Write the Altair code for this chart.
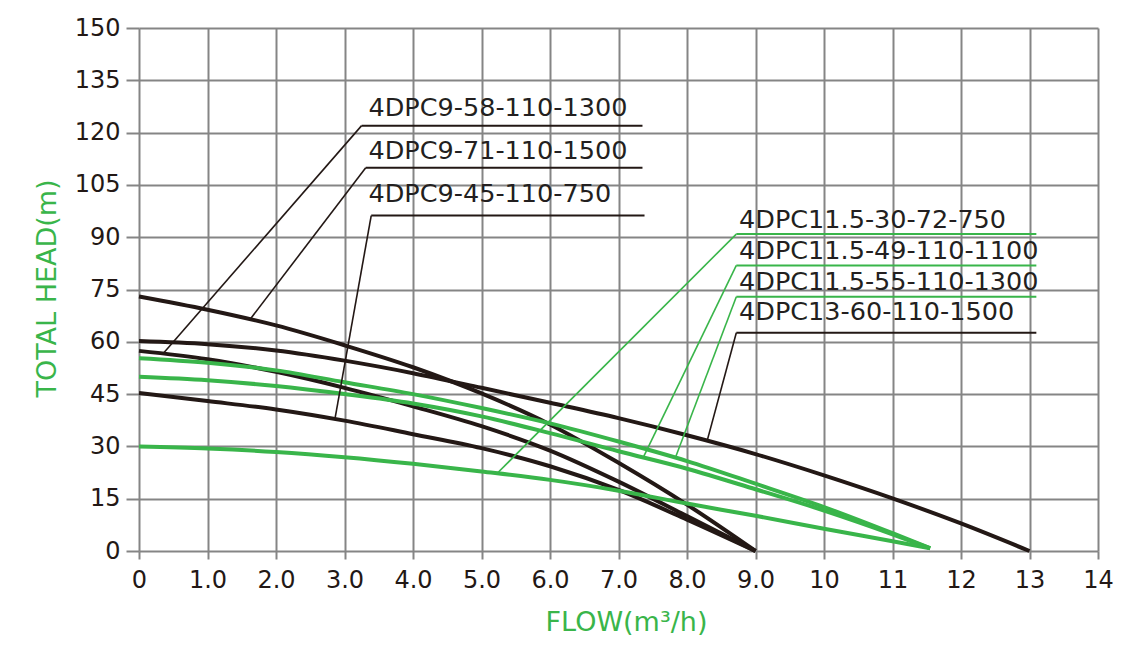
import altair as alt
import pandas as pd

BLACK = "#231815"
GREEN = "#39b54a"
GRID = "#858585"
FONT = "DejaVu Sans"

# ---------------- curve data (flow m3/h, head m) ----------------
flow_9 = [0, 1, 2, 3, 4, 5, 6, 7, 8, 9]
head_9_71 = [73.0, 69.2, 64.7, 59.0, 52.7, 45.2, 36.3, 25.3, 13.3, 0.0]
head_9_58 = [57.4, 55.0, 51.4, 46.8, 41.5, 35.8, 28.8, 19.9, 10.0, 0.0]
head_9_45 = [45.3, 43.0, 40.6, 37.4, 33.5, 29.5, 24.3, 17.5, 9.0, 0.0]

flow_13 = [0, 1, 2, 3, 4, 5, 6, 7, 8, 9, 10, 11, 12, 13]
head_13_60 = [60.2, 59.3, 57.5, 54.6, 51.0, 46.8, 42.5, 38.1, 33.2, 27.8, 21.7, 15.1, 7.9, 0.0]

flow_115 = [0, 1, 2, 3, 4, 5, 6, 7, 8, 9, 10, 11, 11.55]
head_115_55 = [55.3, 54.0, 51.8, 48.4, 45.0, 41.0, 36.6, 31.4, 25.8, 19.3, 12.6, 5.1, 0.8]
head_115_49 = [50.0, 49.0, 47.3, 45.0, 42.3, 38.6, 33.8, 28.6, 23.6, 17.7, 11.6, 4.8, 0.8]
head_115_30 = [30.0, 29.4, 28.4, 26.9, 25.0, 22.8, 20.4, 17.3, 13.6, 10.1, 6.4, 2.8, 0.8]

# ---------------- axis ticks ----------------
x_ticks = list(range(15))
x_tick_labels = ["0", "1.0", "2.0", "3.0", "4.0", "5.0", "6.0", "7.0", "8.0", "9.0",
                 "10", "11", "12", "13", "14"]
y_ticks = [0, 15, 30, 45, 60, 75, 90, 105, 120, 135, 150]

# ---------------- annotations (data units) ----------------
label_names = ["4DPC9-58-110-1300", "4DPC9-71-110-1500", "4DPC9-45-110-750",
               "4DPC11.5-30-72-750", "4DPC11.5-49-110-1100", "4DPC11.5-55-110-1300",
               "4DPC13-60-110-1500"]
label_group = ["black", "black", "black", "green", "green", "green", "black"]
label_text_x = [3.35, 3.35, 3.35, 8.76, 8.76, 8.76, 8.76]
label_text_y = [124.7, 112.4, 100.2, 92.5, 83.7, 74.85, 66.2]
underline_x1 = [3.25, 3.31, 3.39, 8.72, 8.72, 8.72, 8.72]
underline_x2 = [7.35, 7.35, 7.38, 13.1, 13.1, 13.1, 13.1]
underline_y = [122.0, 109.9, 96.2, 90.9, 81.9, 72.9, 62.6]
leader_x = [0.35, 1.62, 2.86, 5.23, 7.36, 7.83, 8.29]
leader_y = [56.6, 66.4, 37.85, 22.3, 26.8, 26.75, 31.3]

# ---------------- build tables ----------------
series = [
    ("4DPC9-71-110-1500", "black", flow_9, head_9_71),
    ("4DPC9-58-110-1300", "black", flow_9, head_9_58),
    ("4DPC9-45-110-750", "black", flow_9, head_9_45),
    ("4DPC13-60-110-1500", "black", flow_13, head_13_60),
    ("4DPC11.5-55-110-1300", "green", flow_115, head_115_55),
    ("4DPC11.5-49-110-1100", "green", flow_115, head_115_49),
    ("4DPC11.5-30-72-750", "green", flow_115, head_115_30),
]
rows = []
for name, grp, xs, ys in series:
    for i, (xv, yv) in enumerate(zip(xs, ys)):
        rows.append({"model": name, "group": grp, "flow": xv, "head": yv, "i": i})
curves = pd.DataFrame(rows)

ann = pd.DataFrame({
    "model": label_names, "group": label_group,
    "tx": label_text_x, "ty": label_text_y,
    "ux1": underline_x1, "ux2": underline_x2, "uy": underline_y,
    "lx": leader_x, "ly": leader_y,
})

color_scale = alt.Scale(domain=["black", "green"], range=[BLACK, GREEN])
xscale = alt.Scale(domain=[0, 14], nice=False, zero=False)
yscale = alt.Scale(domain=[0, 150], nice=False, zero=False)

label_expr = "[" + ",".join("'%s'" % s for s in x_tick_labels) + "][datum.value]"

x_axis = alt.Axis(
    values=x_ticks, labelExpr=label_expr,
    grid=True, gridColor=GRID, gridWidth=2, domain=False,
    ticks=True, tickColor=GRID, tickWidth=2, tickSize=8,
    labelFont=FONT, labelFontSize=24, labelColor=BLACK, labelPadding=9,
    labelFlush=False, labelOverlap=False,
    titleFont=FONT, titleFontSize=27, titleFontWeight="normal", titleColor=GREEN,
    titleX=487, titleY=79, titleBaseline="alphabetic", titleAlign="center",
)
y_axis = alt.Axis(
    values=y_ticks,
    grid=True, gridColor=GRID, gridWidth=2, domain=False,
    ticks=True, tickColor=GRID, tickWidth=2, tickSize=13,
    labelFont=FONT, labelFontSize=24, labelColor=BLACK, labelPadding=6,
    labelFlush=False, labelOverlap=False,
    titleFont=FONT, titleFontSize=27, titleFontWeight="normal", titleColor=GREEN,
    titleX=-78, titleY=260, titleAngle=-90, titleAlign="center", titleBaseline="bottom",
)

X_TITLE = "FLOW(m³/h)"
Y_TITLE = "TOTAL HEAD(m)"


def xenc(field):
    return alt.X(field, type="quantitative", scale=xscale, axis=x_axis, title=X_TITLE)


def yenc(field):
    return alt.Y(field, type="quantitative", scale=yscale, axis=y_axis, title=Y_TITLE)


color_enc = alt.Color("group:N", scale=color_scale, legend=None)

black_lines = alt.Chart(curves[curves.group == "black"]).mark_line(
    strokeWidth=4, interpolate="monotone"
).encode(
    x=xenc("flow"), y=yenc("head"), detail="model:N", order="i:O", color=color_enc,
)

green_lines = alt.Chart(curves[curves.group == "green"]).mark_line(
    strokeWidth=4, interpolate="monotone"
).encode(
    x=xenc("flow"), y=yenc("head"), detail="model:N", order="i:O", color=color_enc,
)

leaders = alt.Chart(ann).mark_rule(strokeWidth=1.6).encode(
    x=xenc("ux1"), y=yenc("uy"), x2="lx:Q", y2="ly:Q", color=color_enc,
)

underlines = alt.Chart(ann).mark_rule(strokeWidth=2).encode(
    x=xenc("ux1"), x2="ux2:Q", y=yenc("uy"), color=color_enc,
)

texts = alt.Chart(ann).mark_text(
    align="left", baseline="alphabetic", font=FONT, fontSize=25.5, color="#231f20"
).encode(
    x=xenc("tx"), y=yenc("ty"), text="model:N",
)

chart = alt.layer(black_lines, green_lines, leaders, underlines, texts).properties(
    width=959, height=523,
    autosize=alt.AutoSizeParams(type="none"),
    padding={"left": 131, "top": 20, "right": 40, "bottom": 100},
    background="white",
).configure_view(stroke=None)

chart.save("out.html", embed_options={"renderer": "svg", "actions": False})
